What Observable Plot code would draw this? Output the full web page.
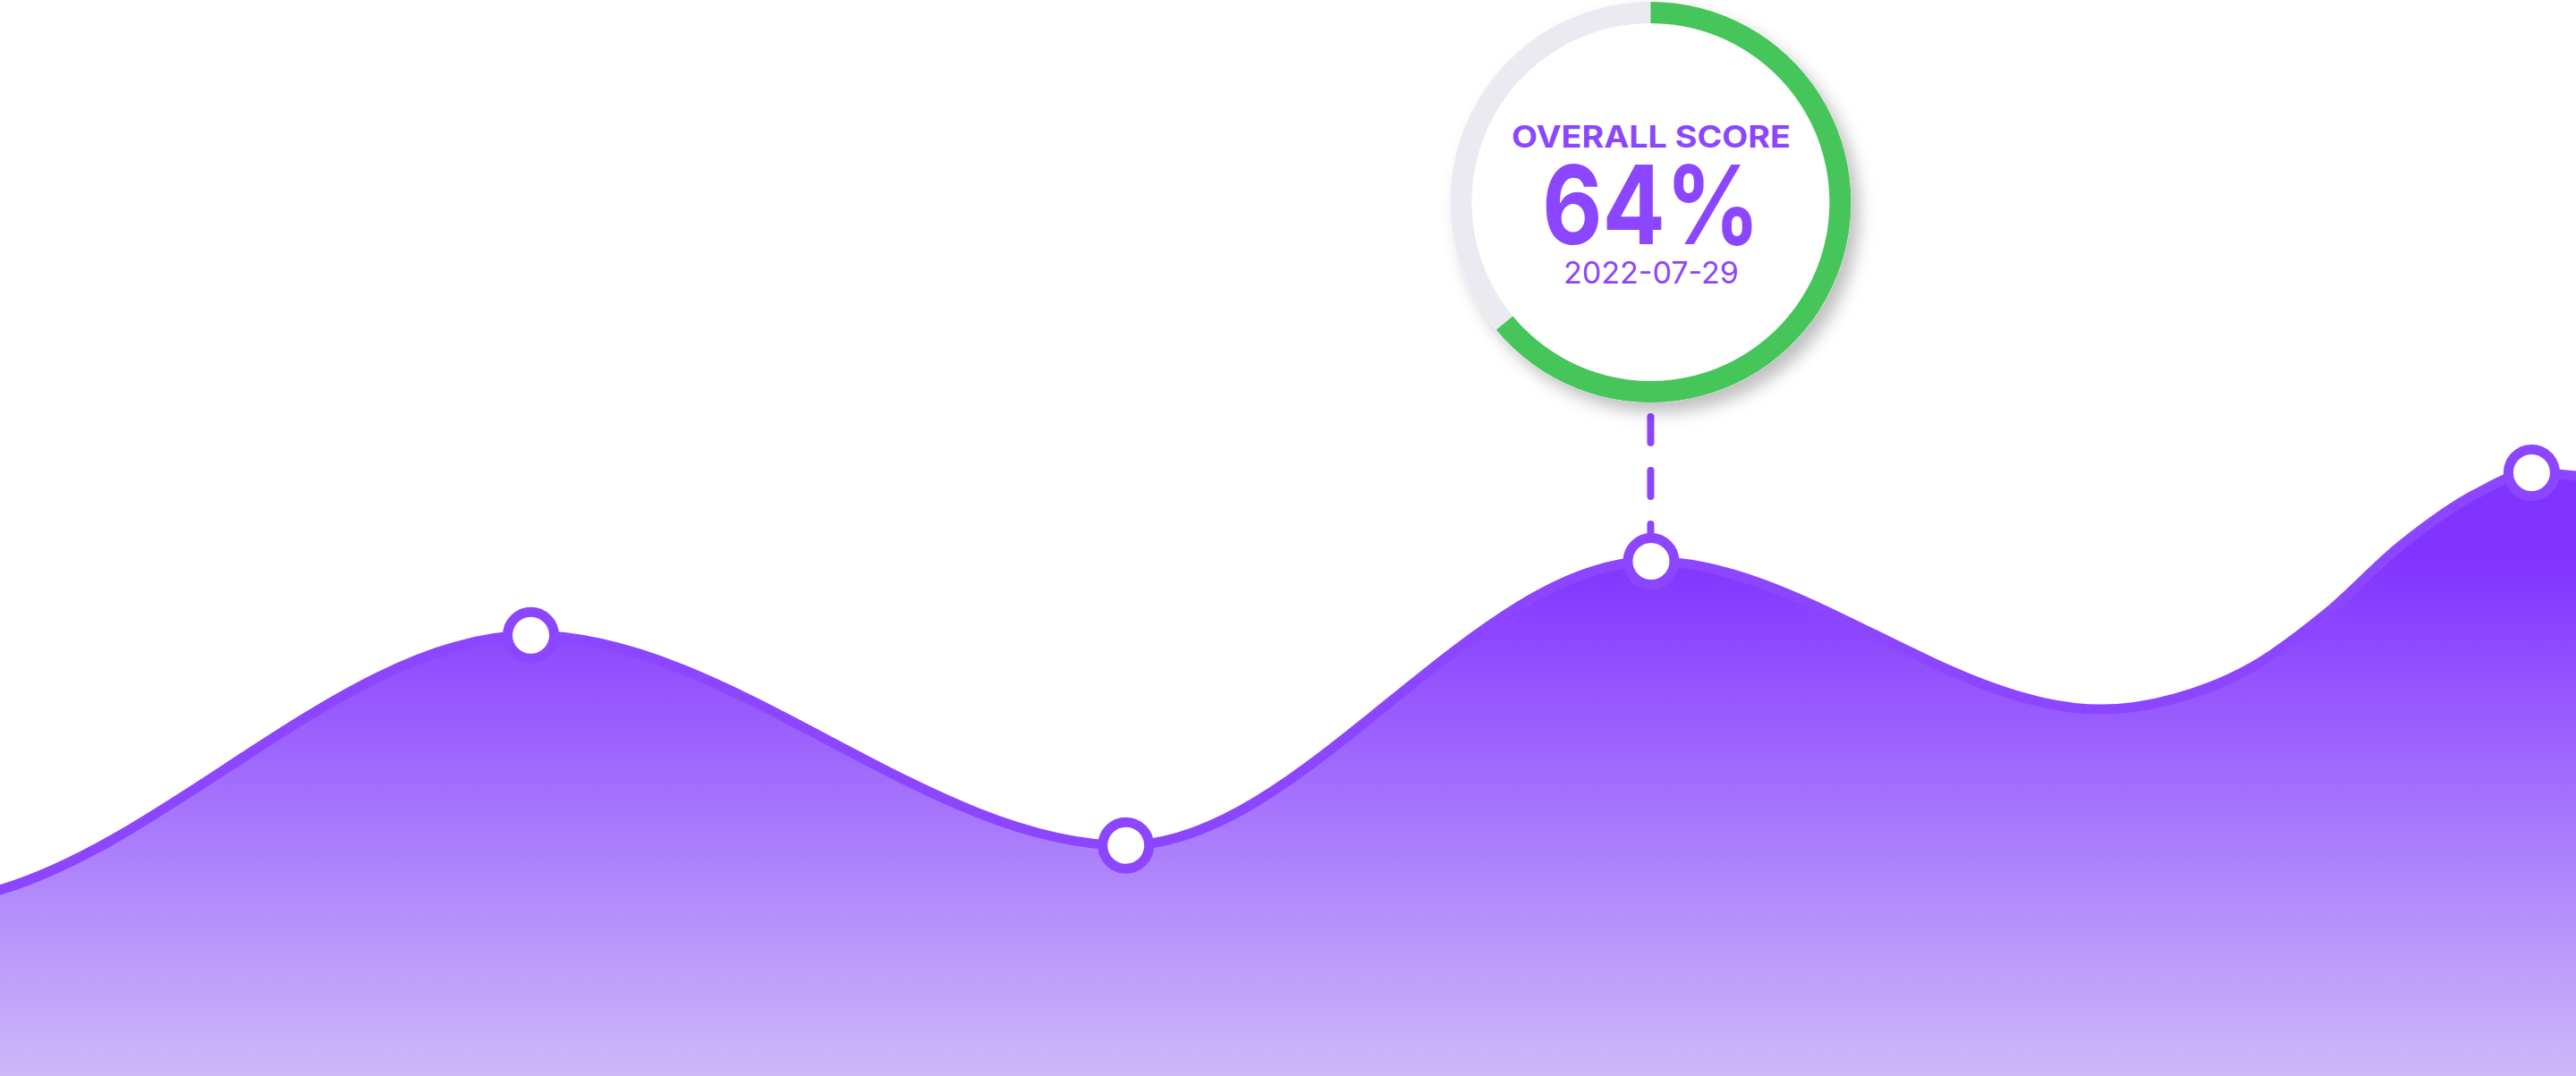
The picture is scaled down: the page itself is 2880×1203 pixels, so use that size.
<!DOCTYPE html>
<html><head><meta charset="utf-8">
<script src="https://cdn.jsdelivr.net/npm/d3@7"></script>
<script src="https://cdn.jsdelivr.net/npm/@observablehq/plot@0.6"></script>
<style>
html,body{margin:0;padding:0;background:#fff;}
#chart svg{display:block;overflow:visible}
</style></head><body><div id="chart"></div>
<script>
// ---- data ----
const dates  = ["2022-05-10","2022-05-24","2022-06-14T05:00Z","2022-07-08","2022-07-29","2022-08-16",
                "2022-08-19","2022-08-22","2022-08-25","2022-08-28","2022-08-31","2022-09-02T05:00Z","2022-09-04"];
const scores = [15.4, 23.2, 54.8, 28.7, 64, 45.6, 47.0, 50.8, 57.5, 66.0, 72.4, 75, 74.6];
const markedDates = ["2022-06-14","2022-07-08","2022-07-29","2022-09-02"];
const xDomain = ["2022-05-24","2022-09-04"];
const gaugeLabel = "OVERALL SCORE";
const gaugeDate = "2022-07-29";
const gaugeScore = 64;

// ---- layout ----
const W = 2880, H = 1203;
const PURPLE = "#8c46ff", GREEN = "#46c65a", TRACK = "#ebeaf0";
const GCY = 226, R_OUT = 224, R_IN = 200;

const data = dates.map((d, i) => ({date: new Date(d), score: scores[i]}));
const marked = data.filter(d => markedDates.includes(d.date.toISOString().slice(0,10)));
const gauge = [{date: new Date(gaugeDate), score: gaugeScore, label: gaugeLabel,
  pct: gaugeScore + "%", day: gaugeDate}];

const font = "Inter, 'Noto Sans', sans-serif";
const chart = Plot.plot({
  width: W, height: H, margin: 0,
  x: {type: "utc", domain: xDomain.map(d => new Date(d)), range: [0, W], axis: null},
  y: {domain: [0, 100], range: [H, 303], axis: null},
  style: {background: "transparent", overflow: "visible"},
  marks: [
    Plot.areaY(data, {x: "date", y: "score", curve: "monotone-x", fill: "url(#areaGrad)", clip: true}),
    Plot.lineY(data, {x: "date", y: "score", curve: "monotone-x", stroke: PURPLE, strokeWidth: 11, clip: true}),
    Plot.dot(marked, {x: "date", y: "score", r: 26, fill: "#fff", stroke: PURPLE, strokeWidth: 11}),
    Plot.text(gauge, {x: "date", text: "label", frameAnchor: "top", lineAnchor: "top", dy: 140,
      fontSize: 34, fontWeight: 700, fill: PURPLE, fontFamily: font}),
    Plot.text(gauge, {x: "date", text: "pct", frameAnchor: "top", lineAnchor: "top", dy: 186,
      fontSize: 122, fontWeight: 700, fill: PURPLE, fontFamily: font}),
    Plot.text(gauge, {x: "date", text: "day", frameAnchor: "top", lineAnchor: "top", dy: 292,
      fontSize: 34, fontWeight: 400, fill: PURPLE, fontFamily: font})
  ]
});
document.getElementById("chart").appendChild(chart);

const svg = d3.select(chart);
const defs = svg.insert("defs", ":first-child");
const g = defs.append("linearGradient").attr("id", "areaGrad")
  .attr("gradientUnits", "userSpaceOnUse").attr("x1", 0).attr("x2", 0).attr("y1", 620).attr("y2", H);
g.append("stop").attr("offset", 0).attr("stop-color", "#8133ff");
g.append("stop").attr("offset", 1).attr("stop-color", "#cdb9f8");
const f = defs.append("filter").attr("id", "gshadow").attr("x", "-30%").attr("y", "-30%").attr("width", "160%").attr("height", "160%");
f.append("feDropShadow").attr("dx", 9).attr("dy", 11).attr("stdDeviation", 9)
  .attr("flood-color", "#000").attr("flood-opacity", 0.25);

// fit text widths to the reference lettering
const widths = {[gaugeLabel]: 312, [gaugeScore + "%"]: 244, [gaugeDate]: 196};
svg.selectAll("g[aria-label='text'] text").each(function() {
  const w = widths[this.textContent];
  if (w) d3.select(this).attr("textLength", w).attr("lengthAdjust", "spacingAndGlyphs");
});

const sx = chart.scale("x"), sy = chart.scale("y");
const cx = sx.apply(gauge[0].date);
const cyPoint = sy.apply(gauge[0].score);

// dashed connector, beneath the dots
svg.insert("line", "g[aria-label='dot']")
  .attr("x1", cx).attr("x2", cx).attr("y1", GCY + R_OUT + 16).attr("y2", cyPoint)
  .attr("stroke", PURPLE).attr("stroke-width", 8).attr("stroke-linecap", "round")
  .attr("stroke-dasharray", "29,31");

// gauge, beneath the texts
const gg = svg.insert("g", "g[aria-label='text']").attr("transform", `translate(${cx},${GCY})`);
gg.append("circle").attr("r", R_OUT).attr("fill", "#fff").attr("filter", "url(#gshadow)");
const arc = d3.arc().innerRadius(R_IN).outerRadius(R_OUT);
gg.append("path").attr("d", arc({startAngle: 0, endAngle: 2 * Math.PI})).attr("fill", TRACK);
gg.append("path").attr("d", arc({startAngle: 0, endAngle: 2 * Math.PI * gauge[0].score / 100})).attr("fill", GREEN);
</script></body></html>
